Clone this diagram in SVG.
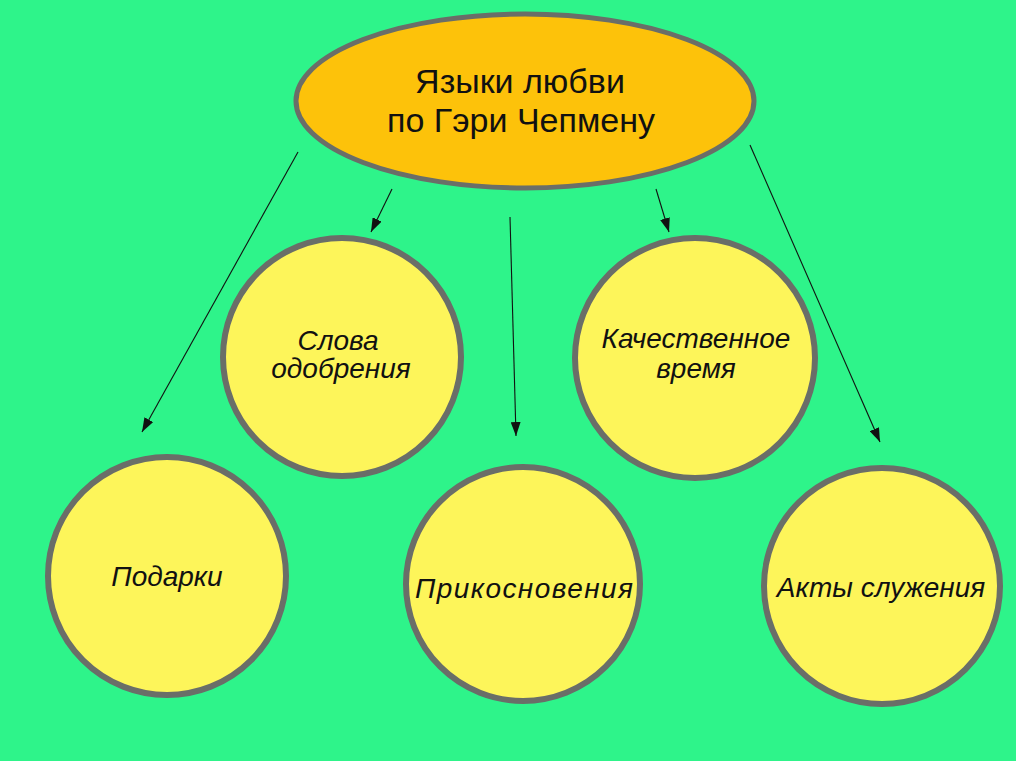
<svg xmlns="http://www.w3.org/2000/svg" width="1016" height="761" viewBox="0 0 1016 761">
<style>
.bg{fill:#2ef48a}
.main{fill:#fdc20a;stroke:#6a6e68;stroke-width:5}
.c{fill:#fdf55a;stroke:#6a6e68;stroke-width:6}
.t{font-family:"Liberation Sans",Arial,sans-serif;fill:#111;text-anchor:middle}
.ti{font-family:"Liberation Sans",Arial,sans-serif;font-style:italic;fill:#111;text-anchor:middle;font-size:28px}
.arr{stroke:#111;stroke-width:1.1;fill:none;marker-end:url(#ah)}
</style>
<defs>
<marker id="ah" viewBox="0 0 14 10" refX="14" refY="5" markerWidth="14" markerHeight="10" markerUnits="userSpaceOnUse" orient="auto">
<path d="M0,0 L14,5 L0,10 Z" fill="#111"/>
</marker>
</defs>
<rect class="bg" x="0" y="0" width="1016" height="761"/>
<g id="connectors">
<line class="arr" x1="298" y1="152" x2="142" y2="432"/>
<line class="arr" x1="392" y1="189" x2="371" y2="232"/>
<line class="arr" x1="510" y1="217" x2="516" y2="436"/>
<line class="arr" x1="656" y1="189" x2="669" y2="232"/>
<line class="arr" x1="750" y1="145" x2="880" y2="442"/>
</g>
<g id="root">
<ellipse class="main" cx="525" cy="101" rx="229" ry="87"/>
<text class="t" x="520" y="93" font-size="34">Языки любви</text>
<text class="t" x="521" y="132" font-size="34">по Гэри Чепмену</text>
</g>
<g id="slova">
<circle class="c" cx="342" cy="357" r="119"/>
<text class="ti" x="338" y="350">Слова</text>
<text class="ti" x="341" y="378">одобрения</text>
</g>
<g id="kachestvo">
<circle class="c" cx="695" cy="358" r="120"/>
<text class="ti" x="696" y="348">Качественное</text>
<text class="ti" x="696" y="378">время</text>
</g>
<g id="podarki">
<circle class="c" cx="167" cy="576" r="119"/>
<text class="ti" x="167" y="586" font-size="31">Подарки</text>
</g>
<g id="prikosnovenia">
<circle class="c" cx="523" cy="584" r="117"/>
<text class="ti" x="524" y="598" textLength="218" lengthAdjust="spacing">Прикосновения</text>
</g>
<g id="akty">
<circle class="c" cx="882" cy="586" r="118"/>
<text class="ti" x="881" y="597">Акты служения</text>
</g>
</svg>
